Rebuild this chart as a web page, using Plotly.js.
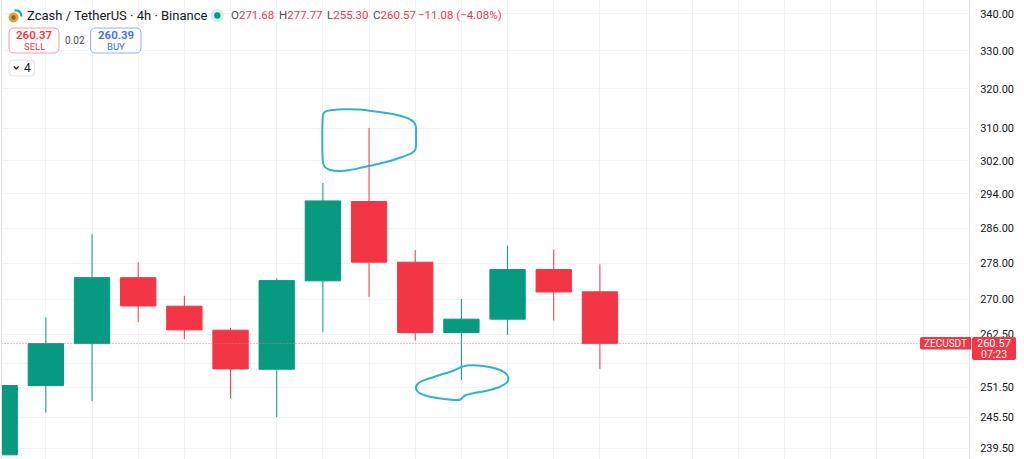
<!DOCTYPE html>
<html><head><meta charset="utf-8">
<script src="https://cdn.plot.ly/plotly-3.0.1.min.js"></script>
<style>html,body{margin:0;padding:0;background:#fff;overflow:hidden}#chart{width:1024px;height:459px}</style>
</head><body><div id="chart"></div>
<script>
// ---------- data ----------
const candleIndex = [0,1,2,3,4,5,6,7,8,9,10,11,12,13];
const openPrices  = [238.2, 251.9, 260.57, 274.8, 268.55, 263.4, 255.24, 274.1, 292.2, 278.25, 262.9, 265.75, 276.6, 271.68];
const highPrices  = [253.0, 266.1, 284.6, 278.25, 270.8, 263.9, 274.7, 296.6, 310.1, 280.96, 270.07, 282.0, 281.1, 277.77];
const lowPrices   = [236.0, 246.46, 248.74, 265.1, 261.5, 249.27, 245.55, 263.04, 270.57, 261.2, 253.05, 262.4, 265.45, 255.30];
const closePrices = [251.9, 260.57, 274.8, 268.6, 263.47, 255.3, 274.15, 292.35, 278.25, 262.9, 265.75, 276.6, 271.65, 260.57];
const priceTicks = [239.5, 245.5, 251.5, 256.5, 262.5, 270, 278, 286, 294, 302, 310, 320, 330, 340];
// 256.50 sits fully under the last-price badge in the reference, so its label is left empty
const priceTickLabels = ['239.50', '245.50', '251.50', '', '262.50', '270.00', '278.00', '286.00', '294.00', '302.00', '310.00', '320.00', '330.00', '340.00'];
const symbolTitle = 'Zcash / TetherUS · 4h · Binance';
const ohlcLetters = ['O', 'H', 'L', 'C'];
const ohlcValues = [271.68, 277.77, 255.30, 260.57];
const changeAbs = -11.08;
const changePct = -4.08;
const sellPrice = 260.37;
const buyPrice = 260.39;
const spreadValue = 0.02;
const lastPrice = 260.57;
const countdown = '07:23';
const tickerName = 'ZECUSDT';
const indicatorCount = 4;

// ---------- geometry helpers ----------
const W = 1024, H = 459, ML = 2, MR = 55, MT = 0, MB = 0;
const PW = W - ML - MR, PH = H - MT - MB;
const xp = px => (px - ML) / PW;
const yp = py => 1 - (py - MT) / PH;
const T = (x, y) => (x - ML).toFixed(2) + ',' + (MT - y).toFixed(2);
const UP = '#089981', DOWN = '#F23645', TXT = '#131722', FONT = 'Roboto, "Open Sans", sans-serif';

function pathShape(d, color, width, fill) {
  return {type: 'path', xref: 'paper', yref: 'paper', xsizemode: 'pixel', ysizemode: 'pixel',
    xanchor: 0, yanchor: 1, path: d, layer: 'above',
    line: {color: color || 'rgba(0,0,0,0)', width: width || 0}, fillcolor: fill || 'rgba(0,0,0,0)'};
}
function rrect(x0, y0, x1, y1, r) {
  return `M${T(x0 + r, y0)} L${T(x1 - r, y0)} Q${T(x1, y0)} ${T(x1, y0 + r)} L${T(x1, y1 - r)} Q${T(x1, y1)} ${T(x1 - r, y1)} L${T(x0 + r, y1)} Q${T(x0, y1)} ${T(x0, y1 - r)} L${T(x0, y0 + r)} Q${T(x0, y0)} ${T(x0 + r, y0)} Z`;
}
function leftRounded(x0, y0, x1, y1, r) {
  return `M${T(x0 + r, y0)} L${T(x1, y0)} L${T(x1, y1)} L${T(x0 + r, y1)} Q${T(x0, y1)} ${T(x0, y1 - r)} L${T(x0, y0 + r)} Q${T(x0, y0)} ${T(x0 + r, y0)} Z`;
}
function smoothClosed(pts) {
  const n = pts.length;
  let d = `M${T(pts[0][0], pts[0][1])}`;
  for (let i = 0; i < n; i++) {
    const p0 = pts[(i - 1 + n) % n], p1 = pts[i], p2 = pts[(i + 1) % n], p3 = pts[(i + 2) % n];
    const c1 = [p1[0] + (p2[0] - p0[0]) / 6, p1[1] + (p2[1] - p0[1]) / 6];
    const c2 = [p2[0] - (p3[0] - p1[0]) / 6, p2[1] - (p3[1] - p1[1]) / 6];
    d += ` C${T(c1[0], c1[1])} ${T(c2[0], c2[1])} ${T(p2[0], p2[1])}`;
  }
  return d + ' Z';
}
function circ(cx, cy, r, fill) {
  return {type: 'circle', xref: 'paper', yref: 'paper', xsizemode: 'pixel', ysizemode: 'pixel',
    xanchor: xp(cx), yanchor: yp(cy), x0: -r, x1: r, y0: -r, y1: r, fillcolor: fill, line: {width: 0}, layer: 'above'};
}

// hand-drawn highlight loops (pixel outlines)
const topLoop = [[322.7,118],[325,111.7],[333,110],[345,109.3],[358,109.5],[377,111.7],[397,115],[410,119.3],[415.5,125],[416,137],[415.5,149],[411,153.5],[402,157],[390,161],[376.7,164.3],[363,167.3],[350,170],[340,171],[330,170],[324.5,166.5],[322.7,160],[322.3,140]];
const bottomLoop = [[461.7,366.7],[470,365.3],[483.3,366],[496.7,368.7],[505,372.7],[508.3,377.3],[506.7,382.7],[500,386.7],[486.7,390.7],[473.3,393.3],[465,395.5],[460.5,399.5],[455,400],[446.7,399.3],[430,396.7],[420,393.3],[416,388.7],[418.3,383.3],[426.7,379.3],[440,375],[453.3,370.7]];

// ---------- traces ----------
const traces = [
  {type: 'scatter', mode: 'lines', x: [-1, 22], y: [lastPrice, lastPrice], hoverinfo: 'skip',
   line: {color: '#f27079', width: 1, dash: '1px,2px'}, showlegend: false},
  {type: 'candlestick', x: candleIndex, open: openPrices, high: highPrices, low: lowPrices, close: closePrices,
   increasing: {line: {color: UP, width: 1}, fillcolor: UP},
   decreasing: {line: {color: DOWN, width: 1}, fillcolor: DOWN},
   whiskerwidth: 0, hoverinfo: 'skip', showlegend: false}
];

// ---------- overlays ----------
const ann = (x, y, text, size, color, extra) => Object.assign({
  xref: 'paper', yref: 'paper', x: xp(x), y: yp(y), text, showarrow: false, xanchor: 'left', yanchor: 'middle',
  borderpad: 0, borderwidth: 0, font: {family: FONT, size, color}}, extra || {});

const ohlcX = [231, 279, 326.7, 373];
const annotations = [
  ann(27, 15.5, symbolTitle, 13, TXT),
  ...ohlcLetters.map((l, i) => ann(ohlcX[i], 15.5,
      `${l}<span style="color:${DOWN}">${ohlcValues[i].toFixed(2)}</span>`, 11.5, '#4a4e57')),
  ann(418.3, 15.5, `\u2212${Math.abs(changeAbs).toFixed(2)} (\u2212${Math.abs(changePct).toFixed(2)}%)`, 11.5, DOWN),
  ann(34, 35.5, sellPrice.toFixed(2), 11.5, DOWN, {xanchor: 'center', font: {family: FONT, size: 11.5, color: DOWN, weight: 600}}),
  ann(34, 46.5, 'SELL', 9.5, DOWN, {xanchor: 'center'}),
  ann(75, 40, spreadValue.toFixed(2), 10, '#4a4e57', {xanchor: 'center'}),
  ann(116, 35.5, buyPrice.toFixed(2), 11.5, '#3b6cf0', {xanchor: 'center', font: {family: FONT, size: 11.5, color: '#3b6cf0', weight: 600}}),
  ann(116, 46.5, 'BUY', 9.5, '#3b6cf0', {xanchor: 'center'}),
  ann(27.5, 68, String(indicatorCount), 12, TXT, {xanchor: 'center'}),
  ann(945.5, 343.3, tickerName, 10, '#ffffff', {xanchor: 'center'}),
  ann(994, 343.2, lastPrice.toFixed(2), 11, '#ffffff', {xanchor: 'center'}),
  ann(994, 354.4, countdown, 10.5, '#ffffff', {xanchor: 'center'})
];

const shapes = [
  // coin icon
  circ(13.5, 17.5, 5, '#d9a23a'),
  circ(13.5, 17.5, 2.2, '#8a6420'),
  pathShape(`M${T(14.5, 10.5)} Q${T(21, 10)} ${T(21.5, 16.5)}`, '#1aa7b8', 2.2),
  // live dot
  circ(217.3, 15.5, 6.5, '#d3efe9'),
  circ(217.3, 15.5, 3.2, UP),
  // sell / buy buttons
  pathShape(rrect(9, 28, 59, 53, 5), '#f29aa2', 1, '#ffffff'),
  pathShape(rrect(90.5, 28, 141, 53, 5), '#95acf7', 1, '#ffffff'),
  // indicator toggle
  pathShape(rrect(9, 60, 34.5, 76, 4), '#e0e3eb', 1, '#ffffff'),
  pathShape(`M${T(13.8, 66.5)} L${T(16.2, 69)} L${T(18.6, 66.5)}`, TXT, 1.2),
  // hand drawn loops
  pathShape(smoothClosed(topLoop), '#2fb3c8', 2),
  pathShape(smoothClosed(bottomLoop), '#2fb3c8', 2),
  // last price labels
  pathShape(leftRounded(920, 337, 971, 349.5, 2), null, 0, DOWN),
  pathShape(rrect(972, 337, 1016, 360, 2), null, 0, DOWN)
];

const layout = {
  width: W, height: H, margin: {l: ML, r: MR, t: MT, b: MB, pad: 0},
  paper_bgcolor: '#ffffff', plot_bgcolor: '#ffffff', showlegend: false,
  boxgap: 0.235, boxgroupgap: 0,
  xaxis: {range: [0.05, 20.994], dtick: 1, tick0: 0, showgrid: true, gridcolor: '#f0f3fa', gridwidth: 1,
    zeroline: false, showticklabels: false, ticks: '', showline: true, side: 'top', linecolor: '#e0e3eb',
    rangeslider: {visible: false}, fixedrange: true},
  yaxis: {type: 'log', range: [Math.log10(237.4), Math.log10(343.8)], side: 'right',
    tickvals: priceTicks, ticktext: priceTickLabels, showgrid: true, gridcolor: '#f0f3fa', gridwidth: 1,
    zeroline: false, ticks: '', ticklabelstandoff: 8, showline: true, mirror: true, linecolor: '#e0e3eb',
    tickfont: {family: FONT, size: 11, color: TXT}, fixedrange: true},
  annotations, shapes
};

Plotly.newPlot('chart', traces, layout, {staticPlot: true, displayModeBar: false});
</script></body></html>
